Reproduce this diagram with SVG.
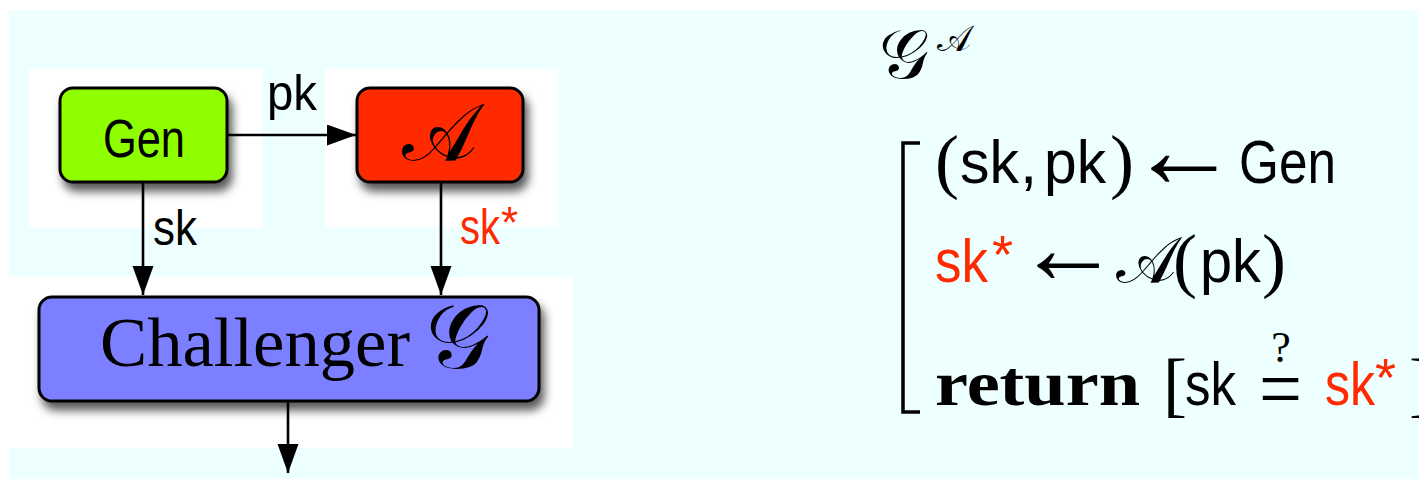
<svg xmlns="http://www.w3.org/2000/svg" width="1419" height="479" viewBox="0 0 1419 479">
  <style>
    .sans { font-family: "Liberation Sans", Arial, sans-serif; }
    .serif { font-family: "Liberation Serif", "Times New Roman", serif; }
    .script { font-family: "DejaVu Serif", "DejaVu Sans", "Noto Sans", serif; }
    .red { fill: #ff2a00; }
    .ink { fill: #000; }
    .box { stroke: #000; stroke-width: 3; }
    .wire { stroke: #000; stroke-width: 2.6; fill: none; }
  </style>
  <defs>
    <filter id="shadow" x="-20%" y="-30%" width="150%" height="180%">
      <feDropShadow dx="4" dy="8" stdDeviation="5" flood-color="#000" flood-opacity="0.65"/>
    </filter>
    <marker id="head" markerUnits="userSpaceOnUse" markerWidth="30" markerHeight="22" refX="29" refY="10.5" orient="auto">
      <path d="M0,0 L29,10.5 L0,21 Z" fill="#000"/>
    </marker>
  </defs>

  <!-- page background -->
  <rect x="0" y="0" width="1419" height="479" fill="#ffffff"/>
  <rect x="9" y="10" width="1410" height="469" fill="#eeffff"/>
  <rect x="29" y="69" width="233" height="159" fill="#ffffff"/>
  <rect x="325" y="69" width="233" height="158" fill="#ffffff"/>
  <rect x="9" y="277" width="564" height="171" fill="#ffffff"/>

  <!-- key generator -->
  <g id="gen">
    <rect class="box" x="60" y="88" width="167" height="94" rx="13" fill="#8fff00" filter="url(#shadow)"/>
    <text class="sans ink" x="103" y="157" font-size="53" textLength="82" lengthAdjust="spacingAndGlyphs">Gen</text>
  </g>

  <!-- adversary -->
  <g id="adversary">
    <rect class="box" x="357" y="88" width="166" height="94" rx="13" fill="#ff2a00" filter="url(#shadow)"/>
    <text class="script ink" x="440" y="160" font-size="80" text-anchor="middle">𝒜</text>
  </g>

  <!-- challenger -->
  <g id="challenger">
    <rect class="box" x="39" y="297" width="500" height="104" rx="13" fill="#7b7fff" filter="url(#shadow)"/>
    <text class="serif ink" x="100" y="366" font-size="70" textLength="310" lengthAdjust="spacingAndGlyphs">Challenger</text>
    <text class="script ink" x="458" y="368" font-size="90" text-anchor="middle">𝒢</text>
  </g>

  <!-- connectors -->
  <g id="connectors">
    <line class="wire" x1="227" y1="135" x2="356" y2="135" marker-end="url(#head)"/>
    <line class="wire" x1="143" y1="182" x2="143" y2="295" marker-end="url(#head)"/>
    <line class="wire" x1="441" y1="182" x2="441" y2="295" marker-end="url(#head)"/>
    <line class="wire" x1="288" y1="401" x2="288" y2="473" marker-end="url(#head)"/>
    <text class="sans ink" x="267" y="110" font-size="50" textLength="50" lengthAdjust="spacingAndGlyphs">pk</text>
    <text class="sans ink" x="153" y="245" font-size="50" textLength="44" lengthAdjust="spacingAndGlyphs">sk</text>
    <text class="sans red" x="460" y="244" font-size="50" textLength="40" lengthAdjust="spacingAndGlyphs">sk</text>
    <text class="sans red" x="501" y="238" font-size="44">*</text>
  </g>

  <!-- game definition -->
  <g id="game">
    <text class="script ink" x="904" y="78" font-size="70" text-anchor="middle">𝒢</text>
    <text class="script ink" x="954" y="51" font-size="36" text-anchor="middle">𝒜</text>

    <!-- left bracket -->
    <path d="M920,143 L903,143 L903,412 L920,412" fill="none" stroke="#000" stroke-width="3.5"/>

    <!-- line 1 -->
    <text class="serif ink" x="935" y="185" font-size="72">(</text>
    <text class="sans ink" x="960" y="183" font-size="62" textLength="59" lengthAdjust="spacingAndGlyphs">sk</text>
    <text class="sans ink" x="1020" y="183" font-size="62">,</text>
    <text class="sans ink" x="1044" y="183" font-size="62" textLength="62" lengthAdjust="spacingAndGlyphs">pk</text>
    <text class="serif ink" x="1110" y="185" font-size="72">)</text>
    <text class="serif ink" x="1184" y="187" font-size="110" text-anchor="middle">←</text>
    <text class="sans ink" x="1239" y="183" font-size="62" textLength="97" lengthAdjust="spacingAndGlyphs">Gen</text>

    <!-- line 2 -->
    <text class="sans red" x="935" y="282" font-size="62" textLength="53" lengthAdjust="spacingAndGlyphs">sk</text>
    <text class="sans red" x="992" y="273" font-size="54">*</text>
    <text class="serif ink" x="1068" y="283" font-size="104" text-anchor="middle">←</text>
    <text class="script ink" x="1146" y="282" font-size="64" text-anchor="middle">𝒜</text>
    <text class="serif ink" x="1173" y="284" font-size="72">(</text>
    <text class="sans ink" x="1200" y="282" font-size="62" textLength="61" lengthAdjust="spacingAndGlyphs">pk</text>
    <text class="serif ink" x="1262" y="284" font-size="72">)</text>

    <!-- line 3 -->
    <text class="serif ink" x="935" y="405" font-size="64" font-weight="bold" textLength="205" lengthAdjust="spacingAndGlyphs">return</text>
    <text class="serif ink" x="1163" y="408" font-size="72">[</text>
    <text class="sans ink" x="1185" y="405" font-size="62" textLength="51" lengthAdjust="spacingAndGlyphs">sk</text>
    <text class="serif ink" x="1281" y="362" font-size="44" text-anchor="middle">?</text>
    <text class="serif ink" x="1259" y="418" font-size="86" textLength="43" lengthAdjust="spacingAndGlyphs">=</text>
    <text class="sans red" x="1325" y="405" font-size="62" textLength="50" lengthAdjust="spacingAndGlyphs">sk</text>
    <text class="sans red" x="1375" y="396" font-size="54">*</text>
    <text class="serif ink" x="1409" y="408" font-size="72">]</text>
  </g>
</svg>
